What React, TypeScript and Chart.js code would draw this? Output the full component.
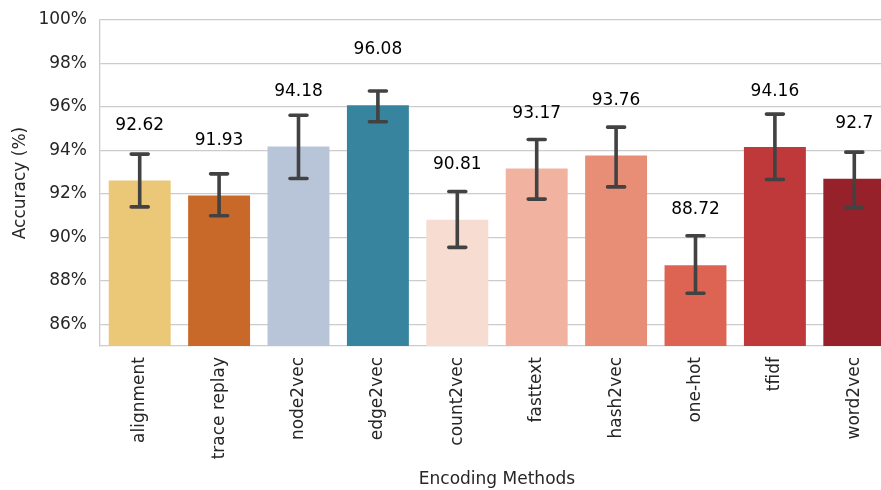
import React, { useEffect, useRef } from 'react';
import { Chart, registerables } from 'chart.js';

Chart.register(...registerables);

const categories = ['alignment', 'trace replay', 'node2vec', 'edge2vec', 'count2vec', 'fasttext', 'hash2vec', 'one-hot', 'tfidf', 'word2vec'];
const accuracy = [92.62, 91.93, 94.18, 96.08, 90.81, 93.17, 93.76, 88.72, 94.16, 92.7];
const errLower = [91.4, 90.99, 92.71, 95.32, 89.54, 91.76, 92.32, 87.43, 92.66, 91.37];
const errUpper = [93.83, 92.92, 95.62, 96.73, 92.11, 94.5, 95.07, 90.07, 95.67, 93.92];
const barColors = ['#EBC877', '#C8692A', '#B8C5D9', '#37849F', '#F7DCD1', '#F1B39F', '#E88E77', '#DD6353', '#BF383A', '#97212A'];
const yTicks = [86, 88, 90, 92, 94, 96, 98, 100];
const yMin = 85;
const yMax = 100;

const FONT = 'DejaVu Sans';

const errorBarPlugin = {
  id: 'errorBars',
  afterDatasetsDraw(chart: any) {
    const ctx = chart.ctx;
    const x = chart.scales.x;
    const y = chart.scales.y;
    ctx.save();
    ctx.strokeStyle = '#424242';
    ctx.lineWidth = 3.6;
    ctx.lineCap = 'round';
    categories.forEach((_, i) => {
      const px = x.getPixelForValue(i);
      const yl = y.getPixelForValue(errLower[i]);
      const yu = y.getPixelForValue(errUpper[i]);
      ctx.beginPath();
      ctx.moveTo(px, yl);
      ctx.lineTo(px, yu);
      ctx.moveTo(px - 8.5, yl);
      ctx.lineTo(px + 8.5, yl);
      ctx.moveTo(px - 8.5, yu);
      ctx.lineTo(px + 8.5, yu);
      ctx.stroke();
    });
    ctx.fillStyle = '#000';
    ctx.font = `17px "${FONT}"`;
    ctx.textAlign = 'center';
    ctx.textBaseline = 'alphabetic';
    categories.forEach((_, i) => {
      const px = x.getPixelForValue(i);
      const py = y.getPixelForValue(accuracy[i] + 2.62) + 6.2;
      ctx.fillText(String(accuracy[i]), px, py);
    });
    ctx.restore();
  },
};

export default function App() {
  const ref = useRef<HTMLCanvasElement>(null);
  useEffect(() => {
    if (!ref.current) return;
    const chart = new Chart(ref.current, {
      type: 'bar',
      data: {
        labels: categories,
        datasets: [
          {
            data: accuracy,
            backgroundColor: barColors,
            borderWidth: 0,
            barPercentage: 0.78,
            categoryPercentage: 1,
          },
        ],
      },
      options: {
        animation: false,
        responsive: false,
        maintainAspectRatio: false,
        devicePixelRatio: 1,
        layout: { padding: { top: 20, left: 0, right: 0, bottom: 0 } },
        plugins: { legend: { display: false }, tooltip: { enabled: false } },
        scales: {
          x: {
            grid: { display: false, drawTicks: false },
            border: { display: true, color: '#cccccc', width: 1.3 },
            ticks: {
              autoSkip: false,
              minRotation: 90,
              maxRotation: 90,
              padding: 11,
              color: '#262626',
              font: { family: FONT, size: 17 },
            },
            title: {
              display: true,
              text: 'Encoding Methods',
              color: '#262626',
              font: { family: FONT, size: 17 },
              padding: { top: 0, bottom: 0 },
            },
            afterFit: (s: any) => {
              s.height = 144;
              s.paddingLeft = 0;
              s.paddingRight = 0;
            },
          },
          y: {
            min: yMin,
            max: yMax,
            grid: { color: '#cccccc', lineWidth: 1.3, drawTicks: false },
            border: { display: true, color: '#cccccc', width: 1.3 },
            ticks: {
              padding: 13,
              color: '#262626',
              font: { family: FONT, size: 17 },
              callback: (v: any) => `${v}%`,
            },
            afterBuildTicks: (s: any) => {
              s.ticks = yTicks.map((v) => ({ value: v }));
            },
            title: {
              display: true,
              text: 'Accuracy (%)',
              color: '#262626',
              font: { family: FONT, size: 17 },
              padding: { top: 10, bottom: 0 },
            },
            afterFit: (s: any) => {
              s.width = 100;
              s.paddingTop = 0;
              s.paddingBottom = 0;
            },
          },
        },
      },
      plugins: [errorBarPlugin],
    });
    return () => chart.destroy();
  }, []);
  return (
    <div style={{ position: 'fixed', left: 0, top: 0, width: 881, height: 490, overflow: 'hidden', background: '#fff' }}>
      <canvas ref={ref} width={894} height={490} style={{ display: 'block', width: 894, height: 490 }} />
    </div>
  );
}
